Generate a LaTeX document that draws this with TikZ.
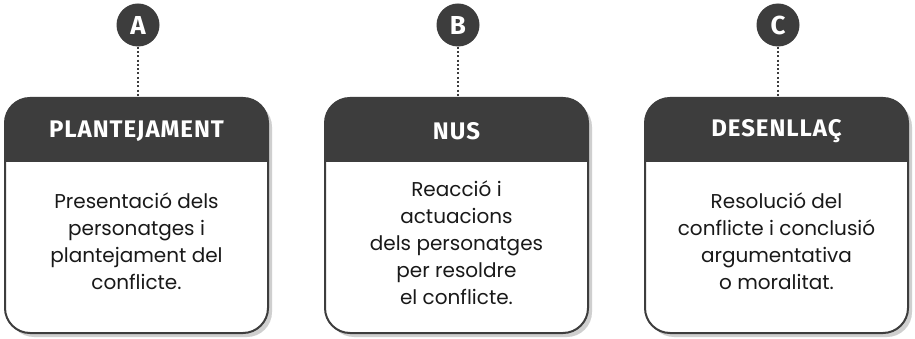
\documentclass[tikz,border=0pt]{standalone}
\usepackage{fontspec}
\setmainfont{Poppins}
\newfontfamily\headfont[LetterSpace=4]{Fira Sans}
\definecolor{dark}{HTML}{3D3D3D}
\definecolor{shadowgray}{HTML}{CFCFCF}
\begin{document}
\begin{tikzpicture}[x=1pt,y=-1pt,
  badge/.style={circle,fill=dark,text=white,minimum size=43pt,inner sep=0pt,font=\headfont\bfseries\fontsize{26}{26}\selectfont},
  headtext/.style={text=white,font=\headfont\bfseries\fontsize{24}{24}\selectfont,inner sep=0pt},
  bodytext/.style={text=black!90,align=center,font=\fontsize{20}{27}\selectfont,inner sep=0pt},
  link/.style={dark,line width=2.2pt,dash pattern=on 2pt off 2.3pt}]
\useasboundingbox (0,0) rectangle (915,339);
\fill[white] (0,0) rectangle (915,339);
\foreach \cx/\L/\H/\T/\ty in {
  136.5/A/PLANTEJAMENT/{Presentació dels\\personatges i\\plantejament del\\conflicte.}/241,
  456.5/B/NUS/{Reacció i\\actuacions\\dels personatges\\per resoldre\\el conflicte.}/243,
  776.5/C/DESENLLAÇ/{Resolució del\\conflicte i conclusió\\argumentativa\\o moralitat.}/241}{
  % shadow
  \fill[shadowgray,rounded corners=25pt] (\cx-131.5+4,98+4) rectangle (\cx+131.5+4,333+4);
  % box
  \fill[white,rounded corners=25pt] (\cx-131.5,98) rectangle (\cx+131.5,333);
  \fill[dark,rounded corners=25pt] (\cx-131.5,162) -- (\cx-131.5,98) -- (\cx+131.5,98) [sharp corners] -- (\cx+131.5,162) -- cycle;
  \fill[dark] (\cx-131.5,130) rectangle (\cx+131.5,162);
  \draw[dark,line width=2pt,rounded corners=25pt] (\cx-131.5,98) rectangle (\cx+131.5,333);
  \node[headtext] (h\L) at (\cx,131) {\H};
  \node[bodytext] (t\L) at (\cx,\ty) {\T};
  \node[badge] (c\L) at (\cx+1.5,25) {\L};
  \coordinate (top\L) at (\cx+1.5,98);
  \draw[link] (c\L.south) -- (top\L);
}
\end{tikzpicture}
\end{document}
